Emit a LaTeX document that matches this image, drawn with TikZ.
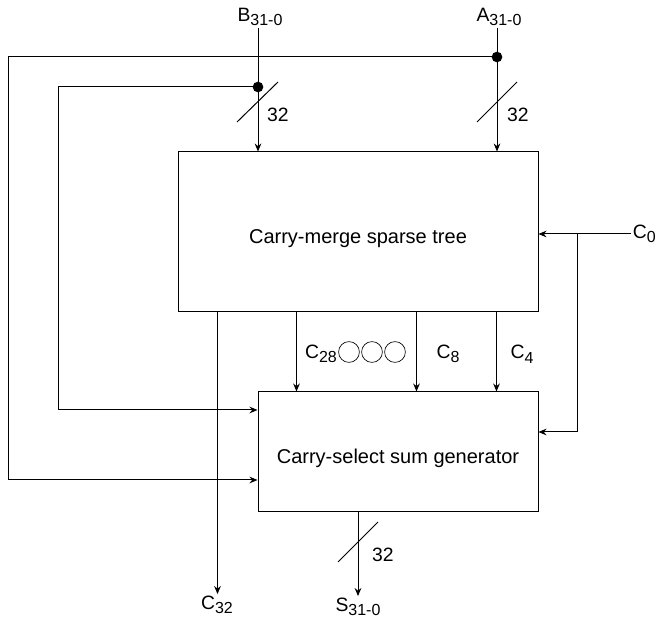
\documentclass[tikz,border=0pt]{standalone}
\usepackage{fontspec}
\setmainfont{Liberation Sans}
\usetikzlibrary{arrows.meta, positioning, calc}
\newcommand{\busidx}[1]{\raisebox{-3.4pt}{\fontsize{12pt}{13pt}\selectfont #1}}

\begin{document}
\begin{tikzpicture}[x=0.75pt, y=-0.75pt, >={Stealth[length=6pt, width=5pt]},
    line width=0.75pt,
    blk/.style={draw, line width=0.75pt, text height=17pt, text depth=0pt,
        font=\fontsize{15pt}{18pt}\selectfont},
    lbl/.style={inner sep=1pt, font=\fontsize{14.5pt}{17pt}\selectfont},
    dotmark/.style={fill=black}]
    \useasboundingbox (0,0) rectangle (658,620);
    % main blocks
    \node[blk, minimum width=270pt, minimum height=120pt] (tree) at (358,232) {Carry-merge sparse tree};
    \node[blk, minimum width=210pt, minimum height=90pt] (sumgen) at (398,452) {Carry-select sum generator};
    % operand inputs
    \node[lbl] (Bin) at (260,17) {B\busidx{31-0}};
    \node[lbl] (Ain) at (499,17) {A\busidx{31-0}};
    \coordinate (Bdot) at (258,87);
    \coordinate (Adot) at (497,57);
    \draw[->] (Bin.south -| Bdot) -- (Bdot |- tree.north);
    \draw[->] (Ain.south -| Adot) -- (Adot |- tree.north);
    \fill[dotmark] (Bdot) circle (4pt);
    \fill[dotmark] (Adot) circle (4pt);
    \draw (237,122) -- (278,82);
    \draw (477,122) -- (517,82);
    \node[lbl] (Bw) at (278,115) {32};
    \node[lbl] (Aw) at (518,115) {32};
    % feed-forward of the operands
    \draw[->] (Adot) -- (8,57) |- ($(sumgen.west)+(0,28)$);
    \draw[->] (Bdot) -- (58,87) |- ($(sumgen.west)+(0,-42)$);
    % carry in
    \node[lbl, anchor=west] (cin) at (631,234) {C\busidx{0}};
    \coordinate (Cbr) at ($(cin.west -| tree.east)+(39,0)$);
    \draw[->] (cin.west) -- (cin.west -| tree.east);
    \draw[->] (Cbr) |- ($(sumgen.east)+(0,-20)$);
    % carries
    \coordinate (c32top) at ($(tree.south west)+(40,0)$);
    \coordinate (c28top) at ($(tree.south west)+(119,0)$);
    \coordinate (c8top) at ($(tree.south west)+(239,0)$);
    \coordinate (c4top) at ($(tree.south west)+(319,0)$);
    \node[lbl] (cout) at (217,605) {C\busidx{32}};
    \draw[->] (c32top) -- (c32top |- cout.north);
    \draw[->] (c28top) -- (c28top |- sumgen.north);
    \draw[->] (c8top) -- (c8top |- sumgen.north);
    \draw[->] (c4top) -- (c4top |- sumgen.north);
    \node[lbl] (c28) at (321,354) {C\busidx{28}};
    \node[lbl] (c8) at (448,354) {C\busidx{8}};
    \node[lbl] (c4) at (522,354) {C\busidx{4}};
    \draw[line width=0.5pt] (349,352) circle (7.8pt) (372,352) circle (7.8pt) (395,352) circle (7.8pt);
    % sum output
    \coordinate (stop) at ($(sumgen.south)+(-40,0)$);
    \node[lbl] (sout) at (358,607) {S\busidx{31-0}};
    \draw[->] (stop) -- (stop |- sout.north);
    \draw (338,562) -- (378,522);
    \node[lbl] (Sw) at (383,555) {32};
\end{tikzpicture}
\end{document}
